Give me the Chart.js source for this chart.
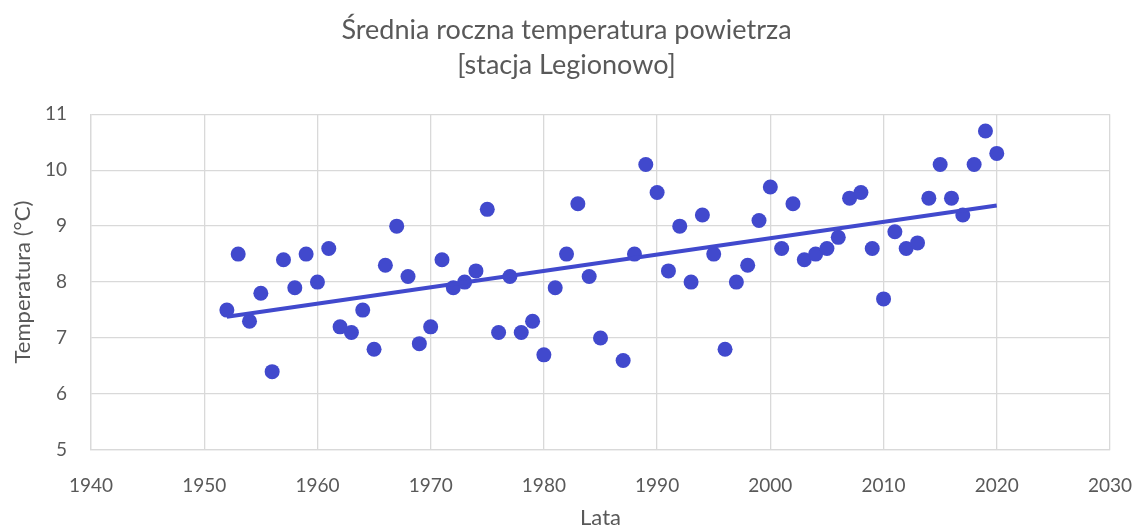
<!DOCTYPE html>
<html>
<head>
<meta charset="utf-8">
<script src="https://cdn.jsdelivr.net/npm/chart.js@4"></script>
<style>
  html, body { margin: 0; padding: 0; background: #fff; }
  #wrap { width: 1142px; height: 532px; }
</style>
</head>
<body>
<div id="wrap"><canvas id="chart"></canvas></div>
<script>
// lata pomiarow (brak 1986)
const years = [1952, 1953, 1954, 1955, 1956, 1957, 1958, 1959, 1960, 1961,
  1962, 1963, 1964, 1965, 1966, 1967, 1968, 1969, 1970, 1971,
  1972, 1973, 1974, 1975, 1976, 1977, 1978, 1979, 1980, 1981,
  1982, 1983, 1984, 1985, 1987, 1988, 1989, 1990, 1991, 1992,
  1993, 1994, 1995, 1996, 1997, 1998, 1999, 2000, 2001, 2002,
  2003, 2004, 2005, 2006, 2007, 2008, 2009, 2010, 2011, 2012,
  2013, 2014, 2015, 2016, 2017, 2018, 2019, 2020];
const temps = [7.5, 8.5, 7.3, 7.8, 6.4, 8.4, 7.9, 8.5, 8.0, 8.6,
  7.2, 7.1, 7.5, 6.8, 8.3, 9.0, 8.1, 6.9, 7.2, 8.4,
  7.9, 8.0, 8.2, 9.3, 7.1, 8.1, 7.1, 7.3, 6.7, 7.9,
  8.5, 9.4, 8.1, 7.0, 6.6, 8.5, 10.1, 9.6, 8.2, 9.0,
  8.0, 9.2, 8.5, 6.8, 8.0, 8.3, 9.1, 9.7, 8.6, 9.4,
  8.4, 8.5, 8.6, 8.8, 9.5, 9.6, 8.6, 7.7, 8.9, 8.6,
  8.7, 9.5, 10.1, 9.5, 9.2, 10.1, 10.7, 10.3];
// linia trendu
const trendYears = [1952, 2020];
const trendTemps = [7.38, 9.37];

const titleLines = ['Średnia roczna temperatura powietrza', '[stacja Legionowo]'];
const xTitle = 'Lata';
const yTitle = 'Temperatura (°C)';

const blue = '#4149cd';
const textGray = '#595959';
const gridGray = '#d9d9d9';
const fontFamily = 'Lato, "Open Sans", sans-serif';

const points = years.map((y, i) => ({ x: y, y: temps[i] }));
const trend = trendYears.map((y, i) => ({ x: y, y: trendTemps[i] }));

new Chart(document.getElementById('chart'), {
  type: 'scatter',
  data: {
    datasets: [
      {
        label: 'Temperatura',
        data: points,
        backgroundColor: blue,
        borderColor: blue,
        pointRadius: 7.5,
        pointHoverRadius: 7.5,
        borderWidth: 0,
        order: 1
      },
      {
        label: 'Trend',
        type: 'line',
        data: trend,
        borderColor: blue,
        borderWidth: 4,
        pointRadius: 0,
        fill: false,
        order: 0
      }
    ]
  },
  options: {
    responsive: true,
    maintainAspectRatio: false,
    animation: false,
    layout: { padding: { left: 0, right: 9, top: 0, bottom: 0 } },
    plugins: {
      legend: { display: false },
      tooltip: { enabled: false },
      title: {
        display: true,
        text: titleLines,
        color: textGray,
        font: { family: fontFamily, size: 27, weight: 'normal', lineHeight: 1.3 },
        padding: { top: 13, bottom: 31 }
      }
    },
    scales: {
      x: {
        type: 'linear',
        min: 1940,
        max: 2030,
        ticks: {
          stepSize: 10,
          color: textGray,
          padding: 24,
          font: { family: fontFamily, size: 19 },
          callback: v => String(v)
        },
        grid: { color: gridGray, lineWidth: 1.3, drawTicks: false },
        border: { color: gridGray, width: 1.3 },
        title: {
          display: true,
          text: xTitle,
          color: textGray,
          font: { family: fontFamily, size: 22 },
          padding: { top: 0, bottom: 1 }
        },
        afterFit: s => { s.height = 82; s.paddingLeft = 0; s.paddingRight = 32; }
      },
      y: {
        min: 5,
        max: 11,
        ticks: {
          stepSize: 1,
          color: textGray,
          padding: 24,
          font: { family: fontFamily, size: 19 }
        },
        grid: { color: gridGray, lineWidth: 1.3, drawTicks: false },
        border: { color: gridGray, width: 1.3 },
        title: {
          display: true,
          text: yTitle,
          color: textGray,
          font: { family: fontFamily, size: 22 },
          padding: { top: 10, bottom: 0 }
        },
        afterFit: s => { s.width = 91; }
      }
    }
  }
});
</script>
</body>
</html>
